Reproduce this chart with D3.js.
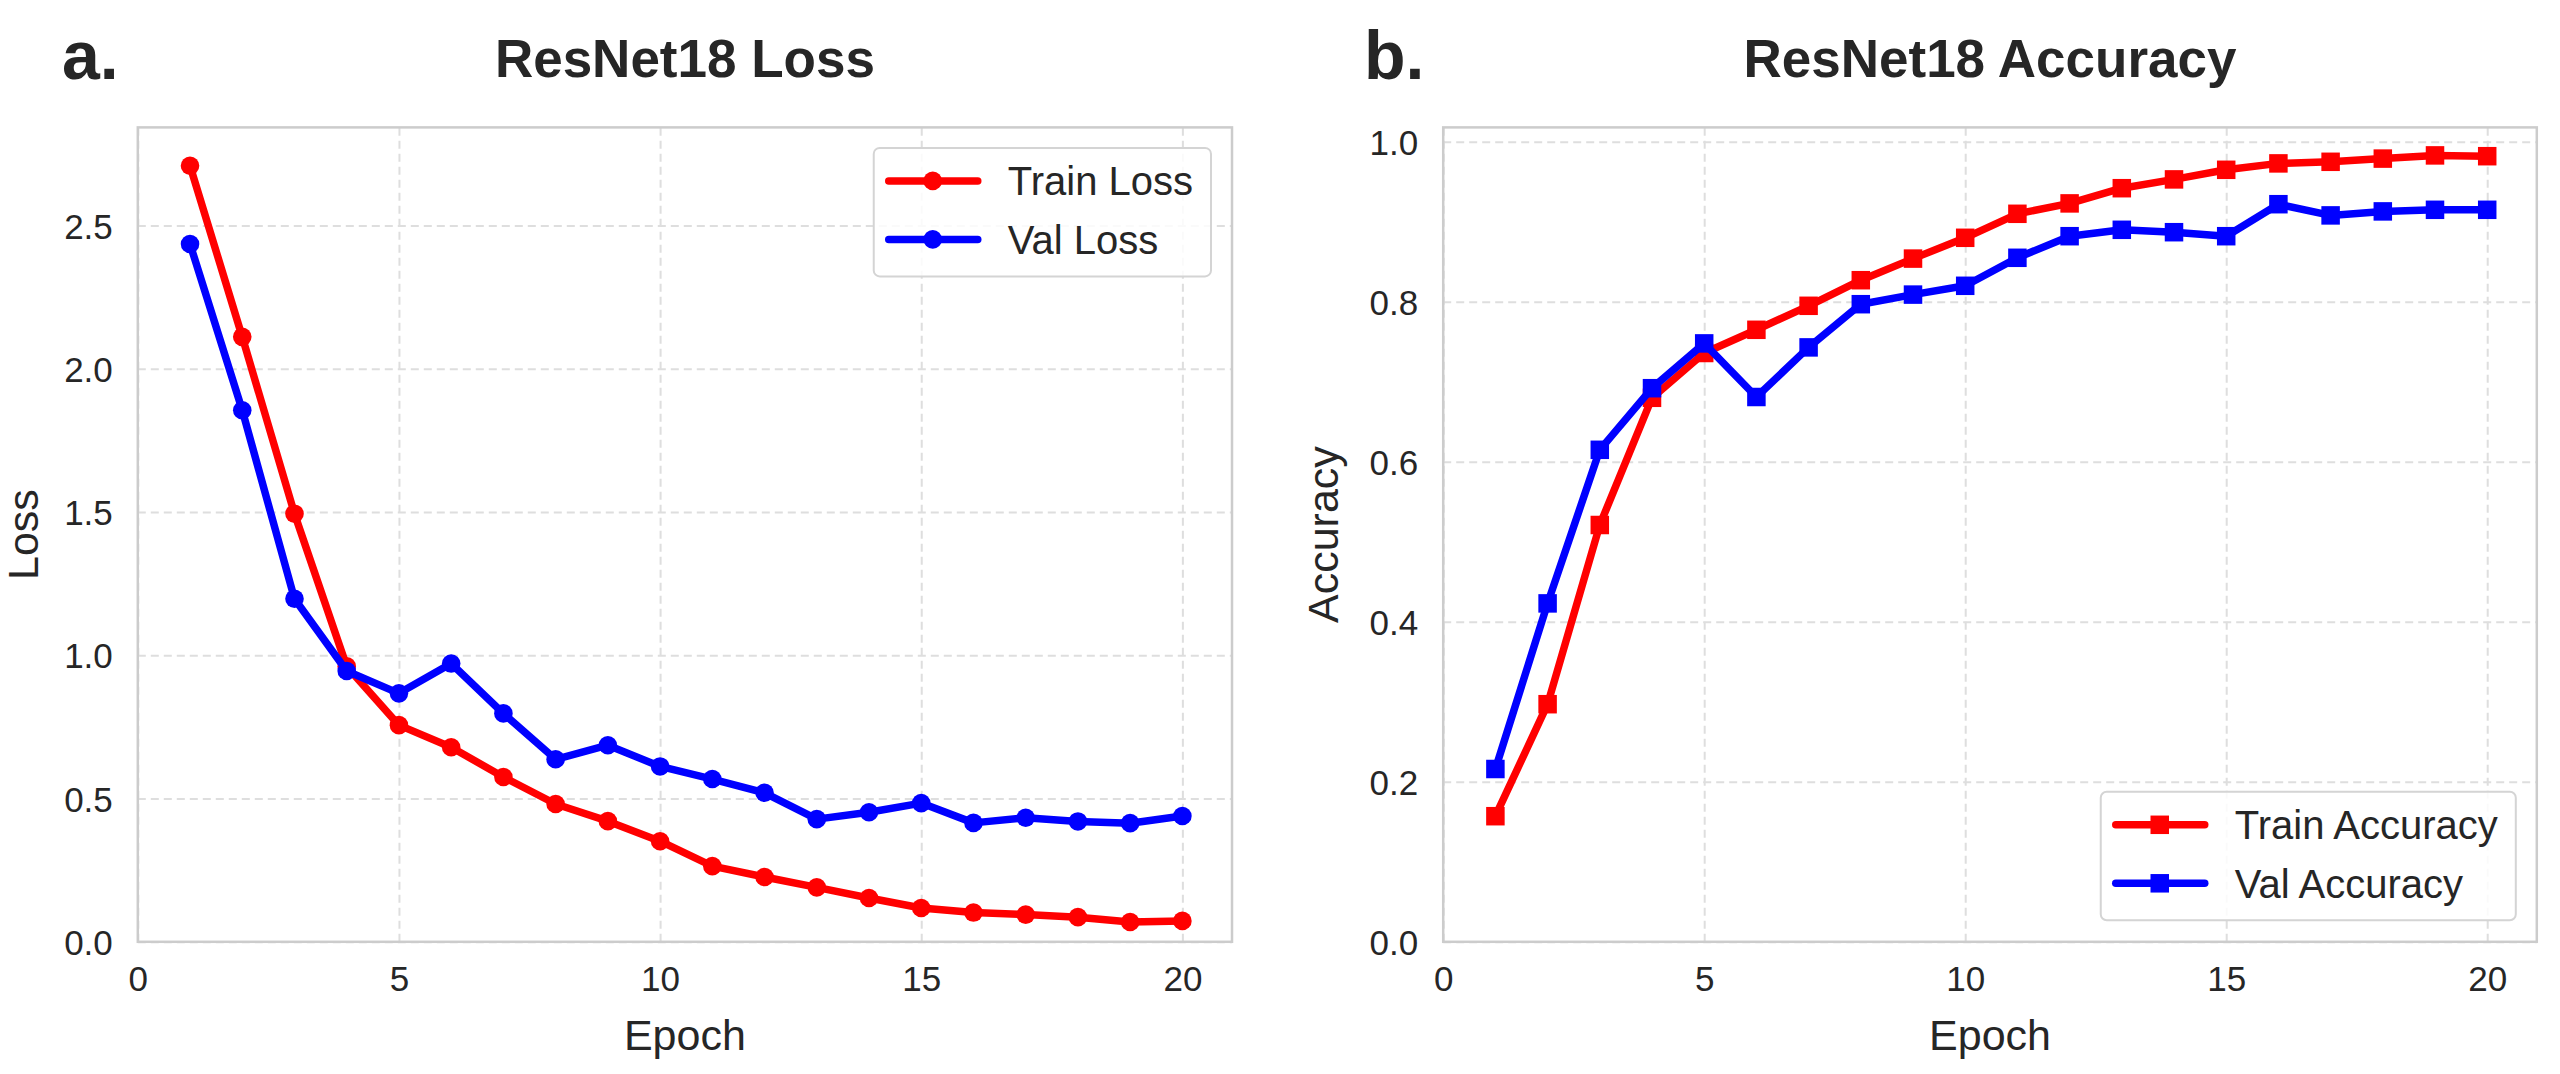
<!DOCTYPE html>
<html>
<head>
<meta charset="utf-8">
<script src="https://cdn.jsdelivr.net/npm/d3@7"></script>
<style>
  html, body { margin: 0; padding: 0; background: #ffffff; }
  svg { display: block; font-family: "Liberation Sans", Arial, Helvetica, sans-serif; }
</style>
</head>
<body>
<svg id="chart" width="2560" height="1074"></svg>
<script>
// ---------- data ----------
const epochs = [1,2,3,4,5,6,7,8,9,10,11,12,13,14,15,16,17,18,19,20];
const trainLoss = [2.708,2.111,1.494,0.961,0.756,0.679,0.575,0.481,0.421,0.351,0.264,0.226,0.190,0.153,0.118,0.102,0.095,0.086,0.069,0.073];
const valLoss   = [2.435,1.855,1.197,0.945,0.867,0.971,0.797,0.637,0.686,0.612,0.568,0.520,0.428,0.452,0.484,0.415,0.433,0.420,0.414,0.439];
const trainAcc  = [0.157,0.297,0.521,0.680,0.736,0.765,0.795,0.827,0.854,0.880,0.910,0.923,0.942,0.953,0.965,0.973,0.975,0.979,0.983,0.982];
const valAcc    = [0.216,0.423,0.615,0.692,0.748,0.681,0.743,0.797,0.809,0.820,0.855,0.882,0.890,0.887,0.882,0.922,0.908,0.913,0.915,0.915];
const xTicks = [0,5,10,15,20];
const lossTicks = [0.0,0.5,1.0,1.5,2.0,2.5];
const accTicks = [0.0,0.2,0.4,0.6,0.8,1.0];

const TEXT = "#262626";
const GRID = "#dedede";
const SPINE = "#cccccc";
const RED = "#ff0000";
const BLUE = "#0000ff";

const svg = d3.select("#chart");

function panel(opts) {
  const {x0, x1, y0, y1, yMax, yTicks, title, letter, letterX, ylabel, ylabelX,
         series, marker, legendPos} = opts;
  const x = d3.scaleLinear().domain([0, 20.95]).range([x0, x1]);
  const y = d3.scaleLinear().domain([0, yMax]).range([y1, y0]);
  const g = svg.append("g");

  // grid + y tick labels
  const ya = g.append("g").attr("transform", `translate(${x0},0)`)
    .call(d3.axisLeft(y).tickValues(yTicks).tickFormat(d3.format(".1f"))
      .tickSize(-(x1 - x0)).tickPadding(25));
  ya.select(".domain").remove();
  ya.selectAll("line").attr("stroke", GRID).attr("stroke-width", 2).attr("stroke-dasharray", "8,5");
  ya.selectAll("text").attr("fill", TEXT).attr("font-size", 35).attr("dy", "0.36em");

  const xa = g.append("g").attr("transform", `translate(0,${y1})`)
    .call(d3.axisBottom(x).tickValues(xTicks).tickFormat(d3.format("d"))
      .tickSize(-(y1 - y0)).tickPadding(24));
  xa.select(".domain").remove();
  xa.selectAll("line").attr("stroke", GRID).attr("stroke-width", 2).attr("stroke-dasharray", "8,5");
  xa.selectAll("text").attr("fill", TEXT).attr("font-size", 35);

  // spines
  g.append("rect").attr("x", x0).attr("y", y0).attr("width", x1 - x0).attr("height", y1 - y0)
    .attr("fill", "none").attr("stroke", SPINE).attr("stroke-width", 2.5);

  // series
  const line = d3.line().x((d, i) => x(epochs[i])).y(d => y(d));
  series.forEach(s => {
    const sg = g.append("g");
    sg.append("path").datum(s.values).attr("d", line)
      .attr("fill", "none").attr("stroke", s.color).attr("stroke-width", 7.5)
      .attr("stroke-linejoin", "round").attr("stroke-linecap", "round");
    if (marker === "circle") {
      sg.selectAll("circle").data(s.values).join("circle")
        .attr("cx", (d, i) => x(epochs[i])).attr("cy", d => y(d)).attr("r", 9.3)
        .attr("fill", s.color);
    } else {
      const m = 18.5;
      sg.selectAll("rect").data(s.values).join("rect")
        .attr("x", (d, i) => x(epochs[i]) - m / 2).attr("y", d => y(d) - m / 2)
        .attr("width", m).attr("height", m).attr("fill", s.color);
    }
  });

  // titles and labels
  svg.append("text").attr("x", (x0 + x1) / 2).attr("y", 77).attr("text-anchor", "middle")
    .attr("font-size", 53).attr("font-weight", "bold").attr("fill", TEXT).text(title);
  svg.append("text").attr("x", letterX).attr("y", 79)
    .attr("font-size", 68).attr("font-weight", "bold").attr("fill", TEXT).text(letter);
  svg.append("text").attr("x", (x0 + x1) / 2).attr("y", 1050).attr("text-anchor", "middle")
    .attr("font-size", 43).attr("fill", TEXT).text("Epoch");
  svg.append("text").attr("transform", `translate(${ylabelX},${(y0 + y1) / 2}) rotate(-90)`)
    .attr("text-anchor", "middle").attr("font-size", 43).attr("fill", TEXT).text(ylabel);

  // legend
  const lg = g.append("g");
  const box = lg.append("rect").attr("fill", "#ffffff").attr("fill-opacity", 0.85)
    .attr("stroke", "#d4d4d4").attr("stroke-width", 2).attr("rx", 6).attr("ry", 6);
  let maxW = 0;
  const rowH = 58.5, boxH = 128.5;
  series.forEach((s, i) => {
    const cy = 33 + i * rowH;
    lg.append("line").attr("x1", 15).attr("x2", 104).attr("y1", cy).attr("y2", cy)
      .attr("stroke", s.color).attr("stroke-width", 7.5).attr("stroke-linecap", "round");
    if (marker === "circle") {
      lg.append("circle").attr("cx", 59).attr("cy", cy).attr("r", 9.3).attr("fill", s.color);
    } else {
      lg.append("rect").attr("x", 59 - 9.25).attr("y", cy - 9.25).attr("width", 18.5).attr("height", 18.5).attr("fill", s.color);
    }
    const t = lg.append("text").attr("x", 134).attr("y", cy).attr("dy", "0.36em")
      .attr("font-size", 40).attr("fill", TEXT).text(s.name);
    maxW = Math.max(maxW, t.node().getComputedTextLength());
  });
  const boxW = 134 + maxW + 18;
  box.attr("x", 0).attr("y", 0).attr("width", boxW).attr("height", boxH);
  const lx = x1 - 21 - boxW;
  const ly = legendPos === "top" ? y0 + 20.5 : y1 - 21.5 - boxH;
  lg.attr("transform", `translate(${lx},${ly})`);
}

panel({
  x0: 137.8, x1: 1232, y0: 127.4, y1: 941.8, yMax: 2.842, yTicks: lossTicks,
  title: "ResNet18 Loss", letter: "a.", letterX: 62, ylabel: "Loss", ylabelX: 38,
  marker: "circle", legendPos: "top",
  series: [
    {name: "Train Loss", values: trainLoss, color: RED},
    {name: "Val Loss", values: valLoss, color: BLUE}
  ]
});

panel({
  x0: 1443.2, x1: 2536.8, y0: 127.4, y1: 941.8, yMax: 1.018, yTicks: accTicks,
  title: "ResNet18 Accuracy", letter: "b.", letterX: 1364, ylabel: "Accuracy", ylabelX: 1338,
  marker: "square", legendPos: "bottom",
  series: [
    {name: "Train Accuracy", values: trainAcc, color: RED},
    {name: "Val Accuracy", values: valAcc, color: BLUE}
  ]
});
</script>
</body>
</html>
